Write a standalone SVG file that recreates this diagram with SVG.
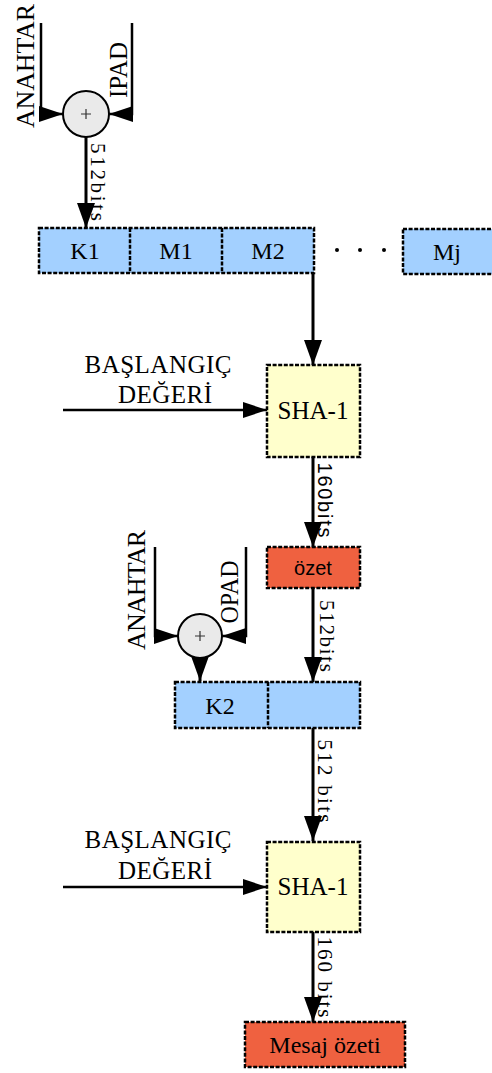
<svg xmlns="http://www.w3.org/2000/svg" width="492" height="1073" viewBox="0 0 492 1073">
<style>
.bx{stroke:#000;stroke-width:2.5;stroke-dasharray:4 1.6}
.blue{fill:#A3D0FF}
.yel{fill:#FFFFCC}
.red{fill:#EF6140}
.div{stroke:#000;stroke-width:2.5;stroke-dasharray:4 1.6;fill:none}
.t{font-family:"Liberation Serif","Times New Roman",serif;font-size:24px;fill:#000;text-anchor:middle}
.ts{font-family:"Liberation Sans",Arial,sans-serif;font-size:20px;fill:#000;text-anchor:middle}
.lh{stroke:#000;stroke-width:2.5;fill:none;marker-end:url(#ah)}
.lv{stroke:#000;stroke-width:3;fill:none;marker-end:url(#av)}
.xor{fill:#EAEAEA;stroke:#000;stroke-width:2}
.plus{stroke:#333;stroke-width:1.2}
</style>
<defs>
<marker id="ah" viewBox="0 0 24 16" refX="24" refY="8" markerWidth="24" markerHeight="16" markerUnits="userSpaceOnUse" orient="auto">
<path d="M0,0 L24,8 L0,16 z" fill="#000"/>
</marker>
<marker id="av" viewBox="0 0 25 18" refX="25" refY="9" markerWidth="25" markerHeight="18" markerUnits="userSpaceOnUse" orient="auto">
<path d="M0,0 L25,9 L0,18 z" fill="#000"/>
</marker>
</defs>

<g id="connectors">
<path class="lh" d="M41,23 V114 H63"/>
<path class="lh" d="M132,23 V114 H109"/>
<path class="lv" d="M86,137 V228"/>
<path class="lv" d="M313,273 V365"/>
<path class="lh" d="M63,410 H267"/>
<path class="lv" d="M313,457 V547"/>
<path class="lv" d="M313,588 V682"/>
<path class="lh" d="M155,547 V636 H178"/>
<path class="lh" d="M246,547 V636 H222"/>
<path class="lv" d="M200,657 V681"/>
<path class="lv" d="M313,728 V841"/>
<path class="lh" d="M63,887 H267"/>
<path class="lv" d="M313,932 V1022"/>
</g>

<g id="xor1">
<circle class="xor" cx="86" cy="114" r="23"/>
<path class="plus" d="M81,114 H91 M86,109 V119"/>
</g>
<g id="label-anahtar1"><text class="t" style="font-size:26px" transform="translate(34,66) rotate(-90)" textLength="124" lengthAdjust="spacing">ANAHTAR</text></g>
<g id="label-ipad"><text class="t" style="font-size:25px" transform="translate(127,70) rotate(-90)" textLength="56" lengthAdjust="spacingAndGlyphs">IPAD</text></g>
<g id="label-512a"><text class="t" style="font-size:21px" transform="translate(91,182) rotate(90)" textLength="78" lengthAdjust="spacing">512bits</text></g>

<g id="row1">
<rect class="bx blue" x="39" y="228" width="275" height="45"/>
<path class="div" d="M130,228 V273 M222,228 V273"/>
<text class="t" x="85" y="259">K1</text>
<text class="t" x="176" y="259">M1</text>
<text class="t" x="268" y="259">M2</text>
<circle cx="337" cy="250" r="2" fill="#000"/>
<circle cx="360" cy="250" r="2" fill="#000"/>
<circle cx="384" cy="250" r="2" fill="#000"/>
<rect class="bx blue" x="403" y="229" width="100" height="45"/>
<text class="t" x="447" y="260">Mj</text>
</g>

<g id="init1">
<text class="t" style="font-size:25px" x="158" y="373" textLength="147" lengthAdjust="spacing">BAŞLANGIÇ</text>
<text class="t" style="font-size:25px" x="165" y="403" textLength="94" lengthAdjust="spacing">DEĞERİ</text>
</g>
<g id="sha1a">
<rect class="bx yel" x="267" y="365" width="93" height="92"/>
<text class="t" style="font-size:25px" x="313" y="419">SHA-1</text>
</g>
<g id="label-160a"><text class="ts" transform="translate(318,500) rotate(90)" textLength="75" lengthAdjust="spacing">160bits</text></g>

<g id="ozet">
<rect class="bx red" x="267" y="547" width="93" height="41"/>
<text class="ts" x="313" y="575">özet</text>
</g>
<g id="label-512b"><text class="t" style="font-size:21px" transform="translate(320,636) rotate(90)" textLength="72" lengthAdjust="spacing">512bits</text></g>

<g id="xor2">
<circle class="xor" cx="200" cy="636" r="22"/>
<path class="plus" d="M195,636 H205 M200,631 V641"/>
</g>
<g id="label-anahtar2"><text class="t" style="font-size:26px" transform="translate(145,590) rotate(-90)" textLength="120" lengthAdjust="spacing">ANAHTAR</text></g>
<g id="label-opad"><text class="t" style="font-size:25px" transform="translate(238,592) rotate(-90)" textLength="63" lengthAdjust="spacingAndGlyphs">OPAD</text></g>

<g id="row2">
<rect class="bx blue" x="175" y="682" width="185" height="46"/>
<path class="div" d="M268,682 V728"/>
<text class="t" x="220" y="714">K2</text>
</g>
<g id="label-512c"><text class="t" style="font-size:21px" transform="translate(318,781) rotate(90)" textLength="83" lengthAdjust="spacing">512 bits</text></g>

<g id="init2">
<text class="t" style="font-size:25px" x="158" y="848" textLength="147" lengthAdjust="spacing">BAŞLANGIÇ</text>
<text class="t" style="font-size:25px" x="165" y="879" textLength="94" lengthAdjust="spacing">DEĞERİ</text>
</g>
<g id="sha1b">
<rect class="bx yel" x="267" y="842" width="93" height="90"/>
<text class="t" style="font-size:25px" x="313" y="895">SHA-1</text>
</g>
<g id="label-160b"><text class="t" style="font-size:21px" transform="translate(318,977) rotate(90)" textLength="81" lengthAdjust="spacing">160 bits</text></g>

<g id="mesaj">
<rect class="bx red" x="245" y="1022" width="160" height="45"/>
<text class="t" style="font-size:24px" x="325" y="1053">Mesaj özeti</text>
</g>
</svg>
